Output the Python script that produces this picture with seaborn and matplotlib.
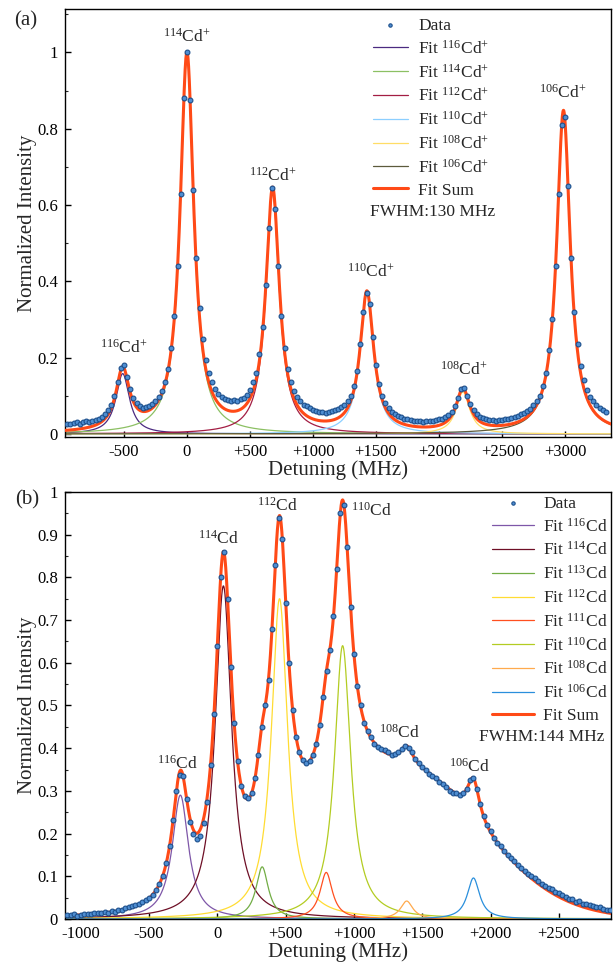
import numpy as np
import matplotlib
matplotlib.use("Agg")
import matplotlib.pyplot as plt
from matplotlib.ticker import MultipleLocator
import seaborn as sns

# ---------------- panel (a): Cd+ ions ----------------
iso_a = ["116", "114", "112", "110", "108", "106"]
centers_a = [-510, 0, 680, 1428, 2190, 2988]        # MHz
heights_a = [0.158, 0.992, 0.634, 0.366, 0.110, 0.846]
fwhm_a = [130, 130, 130, 130, 130, 130]
colors_a = ["#4b2a80", "#8cc063", "#a31d43", "#8ccfff", "#ffdd66", "#5c5a3c"]

# measured points, start -950 MHz, step 25 MHz
data_a_start = -950
data_a = [0.025, 0.027, 0.028, 0.030, 0.027, 0.031, 0.033, 0.032, 0.035, 0.037,
          0.040, 0.045, 0.052, 0.062, 0.075, 0.100, 0.135, 0.172, 0.180, 0.150,
          0.118, 0.093, 0.080, 0.072, 0.068, 0.070, 0.073, 0.078, 0.085, 0.098,
          0.112, 0.135, 0.170, 0.225, 0.310, 0.440, 0.630, 0.880, 1.000, 0.875,
          0.640, 0.460, 0.330, 0.250, 0.195, 0.160, 0.135, 0.118, 0.105, 0.097,
          0.092, 0.088, 0.086, 0.089, 0.087, 0.092, 0.095, 0.102, 0.115, 0.135,
          0.160, 0.210, 0.280, 0.390, 0.540, 0.645, 0.590, 0.440, 0.310, 0.225,
          0.170, 0.135, 0.112, 0.097, 0.085, 0.077, 0.072, 0.068, 0.063, 0.060,
          0.058, 0.057, 0.056, 0.058, 0.060, 0.062, 0.065, 0.070, 0.076, 0.085,
          0.100, 0.125, 0.165, 0.235, 0.320, 0.370, 0.340, 0.255, 0.180, 0.130,
          0.100, 0.082, 0.068, 0.058, 0.052, 0.047, 0.043, 0.040, 0.038, 0.036,
          0.035, 0.033, 0.034, 0.032, 0.033, 0.034, 0.034, 0.036, 0.038, 0.040,
          0.044, 0.050, 0.058, 0.072, 0.095, 0.118, 0.120, 0.100, 0.078, 0.062,
          0.052, 0.045, 0.042, 0.038, 0.036, 0.036, 0.035, 0.036, 0.037, 0.038,
          0.040, 0.042, 0.045, 0.048, 0.052, 0.056, 0.060, 0.066, 0.075, 0.085,
          0.100, 0.125, 0.160, 0.220, 0.300, 0.440, 0.630, 0.810, 0.830, 0.650,
          0.460, 0.320, 0.235, 0.178, 0.140, 0.115, 0.097, 0.085, 0.075, 0.068,
          0.062, 0.058]

peak_lab_a = ["116", "114", "112", "110", "108", "106"]
peak_lab_a_x = [-503, 0, 677, 1457, 2198, 2986]
peak_lab_a_y = [0.225, 1.04, 0.678, 0.425, 0.168, 0.894]

# ---------------- panel (b): neutral Cd ----------------
iso_b = ["116", "114", "113", "112", "111", "110", "108", "106"]
centers_b = [-271, 44, 328, 455, 797, 917, 1386, 1875]
heights_b = [0.290, 0.780, 0.122, 0.750, 0.109, 0.640, 0.042, 0.096]
fwhm_b = [144, 144, 110, 144, 110, 144, 110, 110]
colors_b = ["#7e57a8", "#6e0f26", "#72ad45", "#ffdc33", "#ff4f1f", "#b3cc22",
            "#ffaa4d", "#2a8fdc"]
# broad pedestal contained in the fit sum (flat top between two edges)
bg_height = 0.34
bg_edges = [1200, 1350]
bg_sigmas = [540, 580]

data_b_start = -1100
data_b = [0.010, 0.009, 0.011, 0.008, 0.010, 0.011, 0.012, 0.011, 0.013, 0.014,
          0.013, 0.016, 0.015, 0.018, 0.017, 0.021, 0.022, 0.025, 0.027, 0.030,
          0.032, 0.035, 0.040, 0.044, 0.050, 0.057, 0.067, 0.081, 0.100, 0.130,
          0.172, 0.232, 0.300, 0.338, 0.335, 0.280, 0.228, 0.198, 0.188, 0.195,
          0.225, 0.275, 0.360, 0.480, 0.640, 0.800, 0.860, 0.750, 0.590, 0.460,
          0.370, 0.312, 0.287, 0.283, 0.295, 0.330, 0.385, 0.450, 0.500, 0.560,
          0.680, 0.830, 0.940, 0.890, 0.740, 0.600, 0.490, 0.425, 0.390, 0.372,
          0.366, 0.370, 0.385, 0.410, 0.455, 0.520, 0.580, 0.630, 0.710, 0.820,
          0.950, 0.970, 0.870, 0.730, 0.620, 0.545, 0.500, 0.460, 0.440, 0.425,
          0.410, 0.402, 0.398, 0.395, 0.390, 0.385, 0.387, 0.390, 0.398, 0.405,
          0.400, 0.390, 0.375, 0.365, 0.355, 0.350, 0.340, 0.335, 0.330, 0.320,
          0.315, 0.310, 0.300, 0.295, 0.295, 0.290, 0.295, 0.305, 0.325, 0.330,
          0.305, 0.270, 0.240, 0.220, 0.205, 0.190, 0.178, 0.170, 0.160, 0.150,
          0.142, 0.135, 0.126, 0.120, 0.112, 0.106, 0.100, 0.095, 0.090, 0.082,
          0.078, 0.073, 0.070, 0.062, 0.060, 0.055, 0.052, 0.047, 0.046, 0.040,
          0.041, 0.035, 0.036, 0.032, 0.030, 0.028, 0.027, 0.024, 0.022, 0.020]

peak_lab_b = ["116", "114", "112", "110", "108", "106"]
peak_lab_b_x = [-290, 4, 436, 1131, 1336, 1848]
peak_lab_b_y = [0.364, 0.89, 0.967, 0.956, 0.437, 0.357]

data_step = 25
sum_color = "#ff4a17"

sns.set_theme(style="ticks")
plt.rcParams['font.family'] = ['Liberation Serif', 'DejaVu Serif']
plt.rcParams['mathtext.fontset'] = 'custom'
plt.rcParams['mathtext.rm'] = 'Liberation Serif'
plt.rcParams['mathtext.it'] = 'Liberation Serif:italic'
plt.rcParams['mathtext.bf'] = 'Liberation Serif:bold'


def lorentz(x, c, a, fwhm):
    hw = fwhm / 2.0
    return a / (1.0 + ((x - c) / hw) ** 2)


def pedestal(x):
    lo, hi = bg_edges
    left = bg_height * np.exp(-(x - lo) ** 2 / (2 * bg_sigmas[0] ** 2))
    right = bg_height * np.exp(-(x - hi) ** 2 / (2 * bg_sigmas[1] ** 2))
    return np.where(x < lo, left, np.where(x > hi, right, bg_height))


def draw(ax, xlim, centers, heights, fwhms, colors, labels, extra,
         data_start, data):
    xf = np.linspace(xlim[0], xlim[1], 3000)
    total = extra(xf)
    for c, a, w, col, lab in zip(centers, heights, fwhms, colors, labels):
        y = lorentz(xf, c, a, w)
        total = total + y
        sns.lineplot(x=xf, y=y, color=col, linewidth=0.9, ax=ax,
                     label=lab, estimator=None, zorder=2)
    sns.lineplot(x=xf, y=total, color=sum_color, linewidth=2.2, ax=ax,
                 label="Fit Sum", estimator=None, zorder=3)
    dx = data_start + data_step * np.arange(len(data))
    sns.scatterplot(x=dx, y=data, ax=ax, s=12, color="#4f8ed2",
                    edgecolor="#1c4f8c", linewidth=0.8, label="Data", zorder=4)
    ax.set_xlim(*xlim)


fig = plt.figure(figsize=(6.13, 9.65), dpi=100)
ax1 = fig.add_axes([0.106, 0.5472, 0.8907, 0.4435])
ax2 = fig.add_axes([0.106, 0.0477, 0.8907, 0.4425])

lab_a = ["Fit $^{%s}$Cd$^{+}$" % s for s in iso_a]
draw(ax1, (-968, 3365), centers_a, heights_a, fwhm_a, colors_a, lab_a,
     lambda x: np.zeros_like(x), data_a_start, data_a)
ax1.set_ylim(-0.008, 1.114)

lab_b = ["Fit $^{%s}$Cd" % s for s in iso_b]
draw(ax2, (-1116, 2882), centers_b, heights_b, fwhm_b, colors_b, lab_b,
     pedestal, data_b_start, data_b)
ax2.set_ylim(0, 1.0)

# ticks
xt_a = [-500, 0, 500, 1000, 1500, 2000, 2500, 3000]
xt_b = [-1000, -500, 0, 500, 1000, 1500, 2000, 2500]


def fmt(v):
    return "+%d" % v if v > 0 else "%d" % v


ax1.set_xticks(xt_a)
ax1.set_xticklabels([fmt(v) for v in xt_a])
ax1.set_yticks([0, 0.2, 0.4, 0.6, 0.8, 1.0])
ax1.set_yticklabels(["0", "0.2", "0.4", "0.6", "0.8", "1"])
ax1.yaxis.set_minor_locator(MultipleLocator(0.1))

ax2.set_xticks(xt_b)
ax2.set_xticklabels([fmt(v) for v in xt_b])
yt_b = np.round(np.arange(0, 1.01, 0.1), 1)
ax2.set_yticks(yt_b)
ax2.set_yticklabels(["0"] + ["%.1f" % v for v in yt_b[1:-1]] + ["1"])
ax2.yaxis.set_minor_locator(MultipleLocator(0.05))

for ax in (ax1, ax2):
    ax.tick_params(which="major", direction="in", length=4, width=1,
                   labelsize=12, colors="black", pad=5)
    ax.tick_params(which="minor", direction="in", length=2.5, width=0.8)
    ax.tick_params(axis="x", which="minor", bottom=False)
    for sp in ax.spines.values():
        sp.set_visible(True)
        sp.set_linewidth(1.0)
        sp.set_color("black")
    ax.set_xlabel("Detuning (MHz)", fontsize=15, labelpad=0)
    ax.set_ylabel("Normalized Intensity", fontsize=15, labelpad=0)

# legends
h, l = ax1.get_legend_handles_labels()
order = [len(h) - 1] + list(range(len(h) - 1))
ax1.legend([h[i] for i in order], [l[i] for i in order], loc="upper left",
           bbox_to_anchor=(0.564, 0.980), frameon=False, fontsize=12.5,
           handlelength=2.0, handletextpad=0.6, labelspacing=0.34,
           borderpad=0, borderaxespad=0, markerscale=0.7)
ax1.text(0.559, 0.526, "FWHM:130 MHz", transform=ax1.transAxes,
         fontsize=12.5, ha="left", va="center")

h, l = ax2.get_legend_handles_labels()
order = [len(h) - 1] + list(range(len(h) - 1))
ax2.legend([h[i] for i in order], [l[i] for i in order], loc="upper left",
           bbox_to_anchor=(0.782, 0.992), frameon=False, fontsize=12.5,
           handlelength=2.4, handletextpad=0.55, labelspacing=0.34,
           borderpad=0, borderaxespad=0, markerscale=0.7)
ax2.text(0.987, 0.426, "FWHM:144 MHz", transform=ax2.transAxes,
         fontsize=12.5, ha="right", va="center")

# peak labels
for s, x, y in zip(peak_lab_a, peak_lab_a_x, peak_lab_a_y):
    ax1.text(x, y, "$^{%s}$Cd$^{+}$" % s, ha="center", va="center", fontsize=12.5)
for s, x, y in zip(peak_lab_b, peak_lab_b_x, peak_lab_b_y):
    ax2.text(x, y, "$^{%s}$Cd" % s, ha="center", va="center", fontsize=12.5)

fig.text(26 / 613, 1 - 21 / 965, "(a)", fontsize=15, ha="center", va="center")
fig.text(27 / 613, 1 - 500 / 965, "(b)", fontsize=15, ha="center", va="center")

fig.savefig("out.png", dpi=100)
